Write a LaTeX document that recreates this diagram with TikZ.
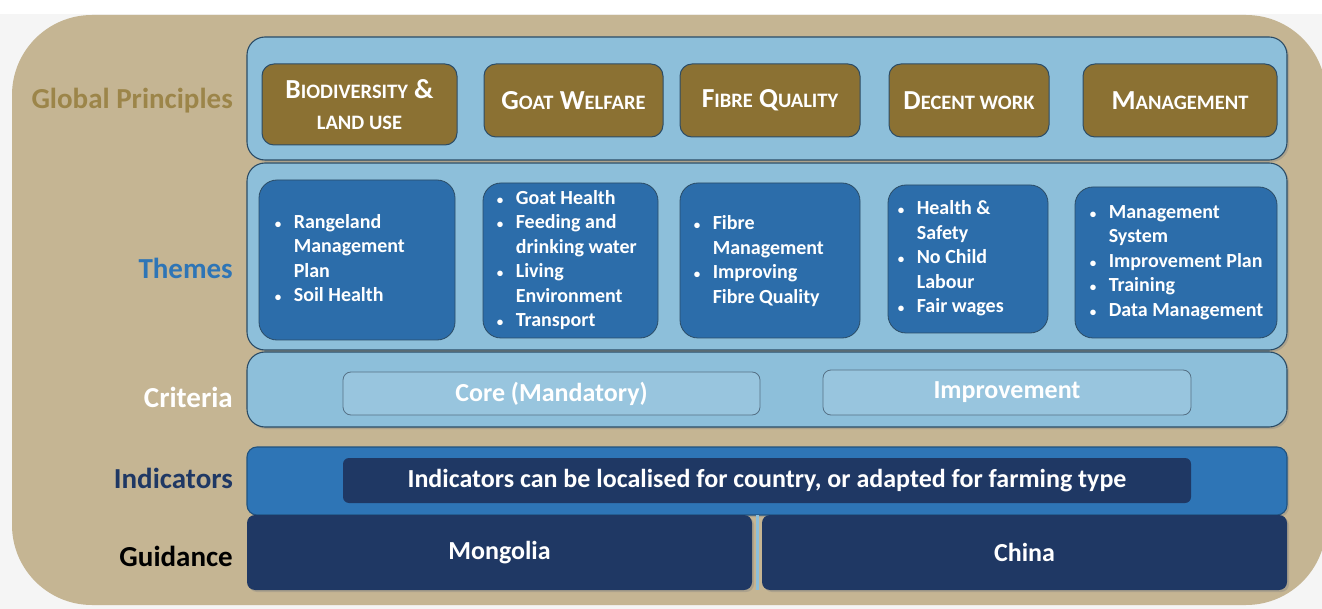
\documentclass[tikz,border=0pt]{standalone}
\usepackage{fontspec}
\setmainfont{Carlito}
\usetikzlibrary{positioning,shadows}

\definecolor{tanbg}{HTML}{C5B593}
\definecolor{paleblue}{HTML}{8DBFDA}
\definecolor{lineblue}{HTML}{2B4C66}
\definecolor{goatbrown}{HTML}{8B7133}
\definecolor{themeblue}{HTML}{2C6DAA}
\definecolor{midblue}{HTML}{2E75B6}
\definecolor{navy}{HTML}{1F3864}
\definecolor{goldtext}{HTML}{9C8549}

% fake small capitals
\newcommand\smc[1]{{\fontsize{20.5}{22}\selectfont #1}}
\newcommand\bl{\makebox[19pt][l]{\fontsize{13}{13}\selectfont\textbullet}}

\begin{document}
\begin{tikzpicture}
  [x=1pt,y=-1pt,
   band/.style={draw=lineblue,line width=1.1pt,fill=paleblue,rounded corners=18pt,
     drop shadow={opacity=.35,shadow xshift=2pt,shadow yshift=-2pt}},
   principle/.style={draw=lineblue,line width=1pt,fill=goatbrown,rounded corners=12pt,
     text=white,align=center,font=\bfseries\fontsize{27.5}{31}\selectfont},
   theme/.style={draw=lineblue,line width=.8pt,fill=themeblue,rounded corners=18pt},
   themetext/.style={anchor=west,inner sep=0pt,text=white,font=\bfseries\fontsize{20}{24.5}\selectfont},
   criterion/.style={draw=lineblue!80,line width=.8pt,fill=paleblue!90!white,rounded corners=8pt,
     text=white,font=\bfseries\fontsize{26}{28}\selectfont},
   darkbox/.style={fill=navy,rounded corners=6pt,text=white,font=\bfseries\fontsize{26}{28}\selectfont},
   rowlabel/.style={anchor=east,inner sep=0pt,font=\bfseries\fontsize{29}{32}\selectfont}]

  \useasboundingbox (0,0) rectangle (1322,609);
  \fill[gray!8] (0,0) rectangle (1322,609);
  \fill[white] (0,0) rectangle (1322,14);
  \fill[tanbg,rounded corners=80pt] (12,15) rectangle (1326,605);

  % layers
  \node[band,minimum width=1040pt,minimum height=187pt] (themeband) at (767,256.5) {};
  \node[band,minimum width=1040pt,minimum height=123pt] (prinband) at (767,98.5) {};
  \node[band,minimum width=1040pt,minimum height=75pt] (critband) at (767,389.5) {};
  \node[band,fill=midblue,draw=midblue!70!black,minimum width=1040pt,minimum height=68pt,
        rounded corners=10pt] (indband) at (767,481) {};
  \node[darkbox,minimum width=505pt,minimum height=75pt,rounded corners=8pt,
        drop shadow={opacity=.35,shadow xshift=2pt,shadow yshift=-2pt}] (mongolia) at (499.5,552.5) {Mongolia};
  \node[darkbox,minimum width=525pt,minimum height=75pt,rounded corners=8pt,
        drop shadow={opacity=.35,shadow xshift=2pt,shadow yshift=-2pt}] (china) at (1024.5,552.5) {China};
  \draw[paleblue,line width=3pt] ([xshift=5pt]mongolia.north east) -- ([xshift=5pt]mongolia.south east);

  % row labels
  \node[rowlabel,text=goldtext] (lprin) at (233,101) {Global Principles};
  \node[rowlabel,text=midblue] (ltheme) at (233,268) {Themes};
  \node[rowlabel,text=white] (lcrit) at (233,397) {Criteria};
  \node[rowlabel,text=navy] (lind) at (233,478) {Indicators};
  \node[rowlabel,text=black] (lguide) at (233,556) {Guidance};

  % global principles
  \node[principle,minimum width=195pt,minimum height=81pt] (bio) at (359.5,104.5)
    {B\smc{IODIVERSITY} \&\\ \smc{LAND USE}};
  \node[principle,minimum width=179pt,minimum height=73pt] (goat) at (573.5,100.5) {G\smc{OAT} W\smc{ELFARE}};
  \node[principle,minimum width=180pt,minimum height=73pt] (fibre) at (770,100.5) {F\smc{IBRE} Q\smc{UALITY}};
  \node[principle,minimum width=160pt,minimum height=73pt] (work) at (969,100.5) {D\smc{ECENT WORK}};
  \node[principle,minimum width=194pt,minimum height=73pt] (mgmt) at (1180,100.5) {M\smc{ANAGEMENT}};

  % themes
  \node[theme,minimum width=196pt,minimum height=160pt] (t1) at (357,260) {};
  \node[theme,minimum width=175pt,minimum height=155pt] (t2) at (570.5,260.5) {};
  \node[theme,minimum width=180pt,minimum height=155pt] (t3) at (770,260.5) {};
  \node[theme,minimum width=160pt,minimum height=148pt] (t4) at (968,259) {};
  \node[theme,minimum width=202pt,minimum height=151pt] (t5) at (1176,262.5) {};

  \node[themetext] (t1txt) at ([xshift=16pt]t1.west) {\begin{tabular}{@{}l@{}l@{}}
    \bl & Rangeland\\ & Management\\ & Plan\\ \bl & Soil Health\end{tabular}};
  \node[themetext] (t2txt) at ([xshift=14pt]t2.west) {\begin{tabular}{@{}l@{}l@{}}
    \bl & Goat Health\\ \bl & Feeding and\\ & drinking water\\ \bl & Living\\ & Environment\\ \bl & Transport\end{tabular}};
  \node[themetext] (t3txt) at ([xshift=14pt,yshift=-1pt]t3.west) {\begin{tabular}{@{}l@{}l@{}}
    \bl & Fibre\\ & Management\\ \bl & Improving\\ & Fibre Quality\end{tabular}};
  \node[themetext] (t4txt) at ([xshift=10pt]t4.west) {\begin{tabular}{@{}l@{}l@{}}
    \bl & Health \&\\ & Safety\\ \bl & No Child\\ & Labour\\ \bl & Fair wages\end{tabular}};
  \node[themetext] (t5txt) at ([xshift=15pt]t5.west) {\begin{tabular}{@{}l@{}l@{}}
    \bl & Management\\ & System\\ \bl & Improvement Plan\\ \bl & Training\\ \bl & Data Management\end{tabular}};

  % criteria
  \node[criterion,minimum width=417pt,minimum height=43pt] (core) at (551.5,393.5) {Core (Mandatory)};
  \node[criterion,minimum width=368pt,minimum height=45pt] (improve) at (1007,392.5) {Improvement};

  % indicators
  \node[darkbox,minimum width=848pt,minimum height=45pt] (indtext) at (767,480.5)
    {Indicators can be localised for country, or adapted for farming type};
\end{tikzpicture}
\end{document}
